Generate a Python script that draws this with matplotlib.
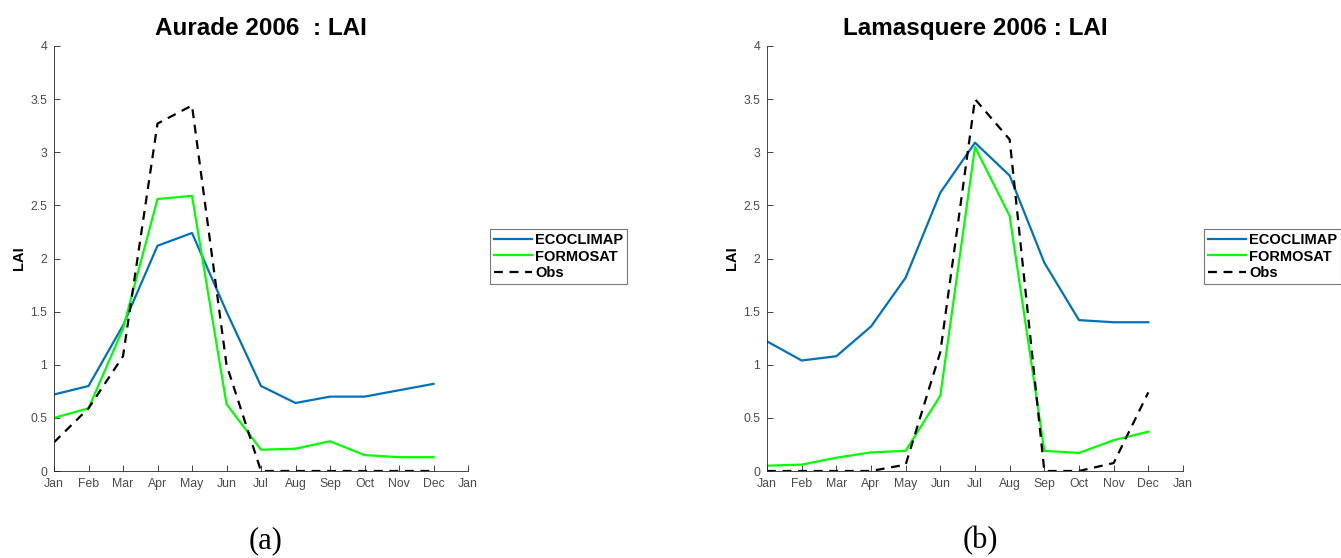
import matplotlib
matplotlib.use("Agg")
import matplotlib.pyplot as plt
import numpy as np

plt.rcParams['font.family'] = ['Liberation Sans', 'DejaVu Sans']

months = ["Jan", "Feb", "Mar", "Apr", "May", "Jun", "Jul", "Aug", "Sep", "Oct", "Nov", "Dec", "Jan"]

aurade_ecoclimap = [0.72, 0.80, 1.37, 2.12, 2.24, 1.50, 0.80, 0.64, 0.70, 0.70, 0.76, 0.82]
aurade_formosat = [0.50, 0.59, 1.34, 2.56, 2.59, 0.63, 0.20, 0.21, 0.28, 0.15, 0.13, 0.13]
aurade_obs = [0.27, 0.59, 1.08, 3.27, 3.44, 1.00, 0.0, 0.0, 0.0, 0.0, 0.0, 0.0]

lama_ecoclimap = [1.22, 1.04, 1.08, 1.36, 1.82, 2.62, 3.09, 2.78, 1.96, 1.42, 1.40, 1.40]
lama_formosat = [0.05, 0.06, 0.125, 0.175, 0.19, 0.71, 3.05, 2.40, 0.19, 0.17, 0.29, 0.37]
lama_obs = [0.0, 0.0, 0.0, 0.0, 0.06, 1.12, 3.50, 3.12, 0.0, 0.0, 0.075, 0.74]

titles = ["Aurade 2006  : LAI", "Lamasquere 2006 : LAI"]
captions = ["(a)", "(b)"]
series_names = ["ECOCLIMAP", "FORMOSAT", "Obs"]

W, H = 1341, 558
fig = plt.figure(figsize=(W / 100, H / 100), dpi=100)

def fx(p):
    return p / W

def fy(p):
    return 1 - p / H

panels = [
    (54, 468, aurade_ecoclimap, aurade_formosat, aurade_obs, 490),
    (767, 1183, lama_ecoclimap, lama_formosat, lama_obs, 1204),
]

gray = "#262626"
for i, (x0, x1, eco, form, obs, legx) in enumerate(panels):
    ax = fig.add_axes([fx(x0), fy(471), fx(x1 - x0), (471 - 46) / H])
    x = np.arange(len(eco))
    l1, = ax.plot(x, eco, color="#0072BD", lw=1.6, label=series_names[0])
    l2, = ax.plot(x, form, color="#00FF00", lw=1.6, label=series_names[1])
    l3, = ax.plot(x, obs, color="black", lw=1.6, ls=(0, (4, 3)), label=series_names[2])
    ax.set_xlim(0, 12)
    ax.set_ylim(0, 4)
    ax.set_xticks(np.arange(13))
    ax.set_xticklabels(months)
    ax.set_yticks([0, 0.5, 1, 1.5, 2, 2.5, 3, 3.5, 4])
    ax.set_yticklabels(["0", "0.5", "1", "1.5", "2", "2.5", "3", "3.5", "4"])
    ax.tick_params(direction="in", length=4, width=0.6, labelsize=8.8,
                   colors=gray, labelcolor="#4a4a4a", pad=3)
    ax.tick_params(axis="x", pad=5)
    ax.tick_params(axis="y", pad=5)
    for s in ["top", "right"]:
        ax.spines[s].set_visible(False)
    for s in ["left", "bottom"]:
        ax.spines[s].set_color(gray)
        ax.spines[s].set_linewidth(0.6)
    ax.set_ylabel("LAI", fontsize=10.5, fontweight="bold", labelpad=3)
    ax.set_title(titles[i], fontsize=17.5, fontweight="bold", pad=8)
    leg = fig.legend(handles=[l1, l2, l3], loc="upper left",
                     bbox_to_anchor=(fx(legx), fy(229)),
                     prop={"weight": "bold", "size": 10.5}, frameon=True,
                     fancybox=False, edgecolor="#555555", handlelength=2.6,
                     handletextpad=0.25, labelspacing=0.2, borderpad=0.25,
                     borderaxespad=0)
    leg.get_frame().set_linewidth(0.8)
    fig.text(fx((x0 + x1) / 2 + 5), fy(541), captions[i], ha="center", va="center",
             fontsize=22, family="Liberation Serif")

fig.savefig("out.png", dpi=100)
